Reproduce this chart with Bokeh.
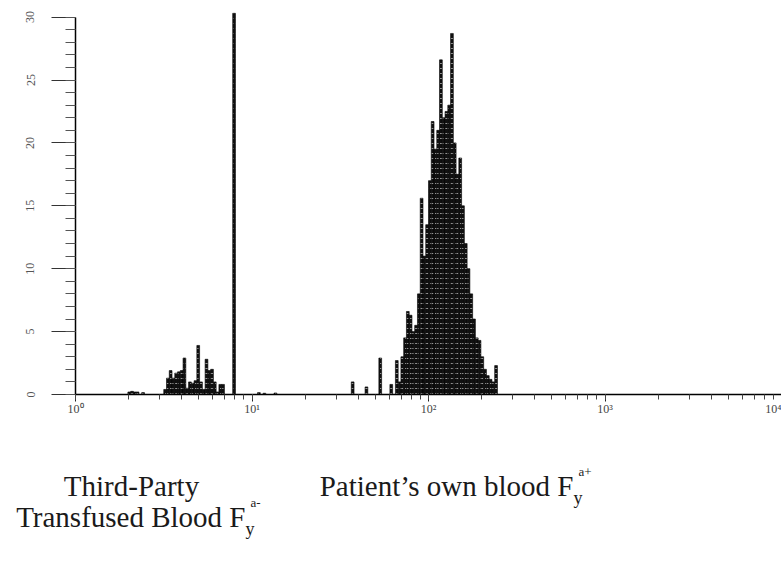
from bokeh.plotting import figure
from bokeh.models import Range1d, SingleIntervalTicker, LogTicker, CustomJSTickFormatter, ColumnDataSource, LinearScale
from bokeh.core.properties import value
from bokeh.embed import file_html
from bokeh.resources import INLINE

# Flow-cytometry histogram: 256 channels spanning 4 decades (64 channels per decade)
CHANNELS_PER_DECADE = 64

channels = [19, 20, 21, 22, 24,
            32, 33, 34, 35, 36, 37, 38, 39, 40, 41, 42, 43, 44, 45, 46, 47, 48, 49, 50, 51, 52, 53,
            57,
            66, 68, 72,
            100, 105, 110, 114, 116,
            117, 118, 119, 120, 121, 122, 123, 124, 125, 126, 127, 128, 129, 130, 131, 132, 133,
            134, 135, 136, 137, 138, 139, 140, 141, 142, 143, 144, 145, 146, 147, 148, 149, 150,
            151, 152]
counts = [0.2, 0.25, 0.2, 0.2, 0.15,
          0.4, 1.3, 1.9, 1.3, 1.7, 1.8, 1.9, 2.9, 0.5, 1.0, 0.9, 1.1, 3.9, 1.0, 0.4, 2.8, 1.9, 2.0, 1.0, 0.2, 0.8, 0.8,
          30.3,
          0.15, 0.1, 0.12,
          1.0, 0.6, 2.9, 0.8, 2.7,
          1.0, 3.0, 4.5, 6.6, 6.3, 5.0, 5.5, 8.0, 15.6, 11.0, 13.5, 17.0, 21.7, 19.5, 21.0, 26.6, 22.0,
          22.5, 23.0, 28.7, 20.0, 17.5, 18.8, 15.0, 12.0, 10.0, 8.0, 6.0, 4.5, 4.3, 3.0, 2.0, 1.5, 1.2,
          1.0, 2.3]

x_decades = [1, 10, 100, 1000, 10000]
y_ticks_interval = 5
y_axis_max = 30

label_left_1 = "Third-Party"
label_left_2 = "Transfused Blood F"
label_left_sup = "a-"
label_right = "Patient\u2019s own blood F"
label_right_sup = "a+"
label_sub = "y"

src = ColumnDataSource(dict(
    left=[10 ** (c / CHANNELS_PER_DECADE) for c in channels],
    right=[10 ** ((c + 1) / CHANNELS_PER_DECADE) for c in channels],
    top=counts,
    bottom=[0] * len(counts),
))

SERIF = "Liberation Serif"

# Page geometry: the frame fills the whole page, axes are placed at fixed locations
W, H = 781, 563
AX_LEFT = 75      # page x of 10^0
AX_BASE = 394     # page y of count 0
DECADE_PX = (W - AX_LEFT) / 4
COUNT_PX = 12.58

x_start = 10 ** (-AX_LEFT / DECADE_PX)
y_top = AX_BASE / COUNT_PX
y_bottom = -(H - AX_BASE) / COUNT_PX

p = figure(width=W, height=H, x_axis_type="log",
           x_range=Range1d(x_start, x_decades[-1]), y_range=Range1d(y_bottom, y_top),
           output_backend="svg", toolbar_location=None,
           min_border_left=0, min_border_right=0, min_border_top=0, min_border_bottom=0)
p.outline_line_color = None
p.grid.visible = False
p.background_fill_color = "white"
p.extra_x_ranges = {"page": Range1d(0, W)}
p.extra_y_ranges = {"page": Range1d(H, 0)}
p.extra_x_scales = {"page": LinearScale()}
p.extra_y_scales = {"page": LinearScale()}

p.quad(left="left", right="right", top="top", bottom="bottom", source=src,
       fill_color="#111111", line_color="#000000", line_width=0.6,
       hatch_pattern="horizontal_dash", hatch_color="white", hatch_alpha=0.55,
       hatch_scale=5, hatch_weight=1)

# x axis
xa = p.xaxis[0]
xa.fixed_location = 0
xa.bounds = (x_decades[0], x_decades[-1])
xa.ticker = LogTicker(num_minor_ticks=10)
xa.formatter = CustomJSTickFormatter(code="""
const sup = {"0":"\u2070","1":"\u00b9","2":"\u00b2","3":"\u00b3","4":"\u2074"};
const e = Math.round(Math.log10(tick));
return "10" + sup[String(e)];
""")
xa.axis_line_color = "black"
xa.axis_line_width = 1.5
xa.major_tick_out = 7
xa.major_tick_in = 0
xa.minor_tick_out = 5
xa.minor_tick_in = 0
xa.major_tick_line_color = "#222"
xa.minor_tick_line_color = "#444"
xa.major_label_standoff = 0
xa.major_label_text_font = SERIF
xa.major_label_text_font_size = "12px"
xa.major_label_text_color = "#444"

# y axis
ya = p.yaxis[0]
ya.fixed_location = x_decades[0]
ya.ticker = SingleIntervalTicker(interval=y_ticks_interval, num_minor_ticks=5)
ya.bounds = (0, y_axis_max)
ya.axis_line_color = "black"
ya.axis_line_width = 1.5
ya.major_tick_out = 24
ya.major_tick_in = 0
ya.minor_tick_out = 10
ya.minor_tick_in = 0
ya.major_tick_line_color = "#333"
ya.minor_tick_line_color = "#555"
ya.major_label_orientation = "vertical"
ya.major_label_standoff = 17
ya.major_label_text_font = SERIF
ya.major_label_text_font_size = "12px"
ya.major_label_text_color = "#555"

# Captions (page-pixel coordinates through the extra "page" ranges)
f = value(SERIF)
col = "#1a1a1a"


def caption(px, py, text, size, align):
    p.text(x=[px], y=[py], text=[text], text_align=align, text_baseline="middle",
           text_font=f, text_font_size=size, text_color=col,
           x_range_name="page", y_range_name="page")


caption(131, 485, label_left_1, "29px", "center")
caption(245, 516, label_left_2, "29px", "right")
caption(245, 528, label_sub, "18px", "left")
caption(250, 502, label_left_sup, "13px", "left")

caption(573, 485, label_right, "29px", "right")
caption(573, 497, label_sub, "18px", "left")
caption(578, 471, label_right_sup, "13px", "left")

open("out.html", "w").write(file_html(p, INLINE))
